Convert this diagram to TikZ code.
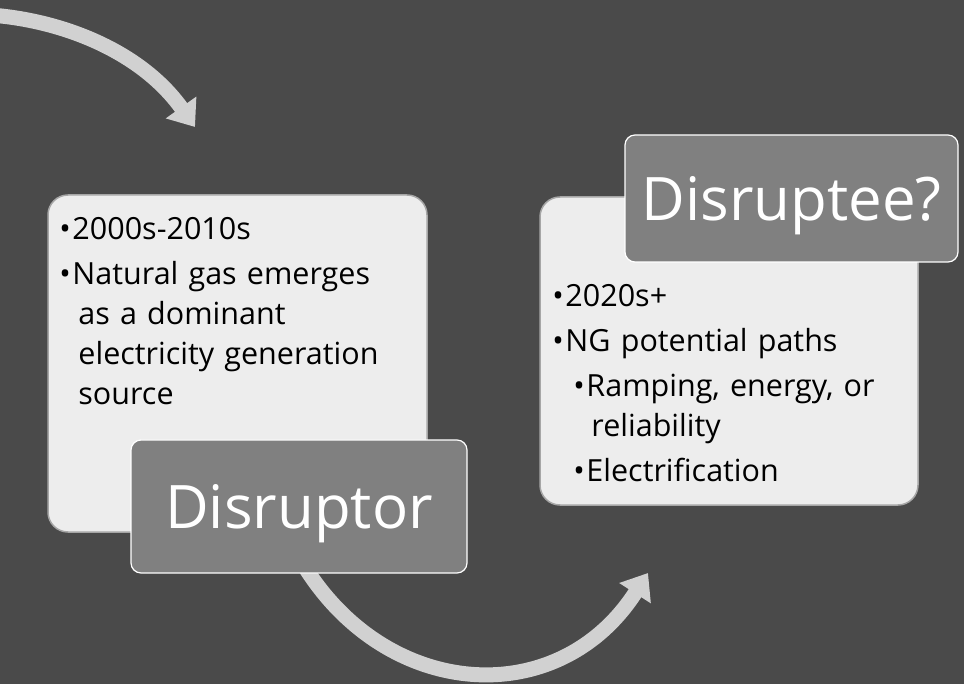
\documentclass[tikz,border=0pt]{standalone}
\usepackage{fontspec}
\setmainfont{Open Sans}
\usetikzlibrary{arrows.meta,positioning}

\definecolor{slate}{gray}{0.29}
\definecolor{paper}{gray}{0.93}
\definecolor{tagfill}{gray}{0.50}
\definecolor{swoosh}{gray}{0.82}

% bullet lines with hanging indent
\newcommand{\bitem}[1]{\par\leftskip=0pt\hangindent=19pt\hangafter=1\noindent\makebox[13pt][l]{\textbullet}#1}
\newcommand{\sbitem}[1]{\par\leftskip=21pt\hangindent=18pt\hangafter=1\noindent\makebox[13pt][l]{\textbullet}#1}

\begin{document}
\begin{tikzpicture}[
  x=1pt, y=-1pt,
  card/.style={draw=black!35, line width=1.5pt, fill=paper, rounded corners=20pt, inner sep=0pt},
  tag/.style={draw=white, line width=1.2pt, fill=tagfill, rounded corners=10pt, inner sep=0pt,
              text=white, text depth=0pt, font=\fontsize{60}{60}\selectfont},
  notes/.style={anchor=north west, inner sep=0pt, text width=360pt,
                font=\fontsize{30.5}{40}\selectfont},
  flow/.style={draw=swoosh, line width=15pt, -{Triangle[width=36pt,length=24pt]}}
]
\fill[slate] (0,0) rectangle (964,684);
\useasboundingbox (0,0) rectangle (964,684);

% swooshes
\coordinate (topstart) at (-10,15);
\coordinate (toptip) at (195,127);
\coordinate (lowstart) at (295,550);
\coordinate (lowtip) at (648,573);
\draw[flow] (topstart) .. controls (60,20) and (140,50) .. (toptip);
\draw[flow] (lowstart) .. controls (375,700) and (556,716) .. (lowtip);

% left: the past
\node[card, minimum width=379pt, minimum height=337pt] (past) at (237.5,363.5) {};
\node[notes] (pastnotes) at ([shift={(12,0)}]past.north west)
  {\setlength{\parskip}{5pt}%
   \bitem{2000s-2010s}
   \bitem{Natural gas emerges\newline as a dominant\newline electricity generation\newline source}\par};
\node[tag, minimum width=336pt, minimum height=133pt] (disruptor) at (299,506.5) {Disruptor};

% right: the future
\node[card, minimum width=378pt, minimum height=308pt] (future) at (729,351) {};
\node[notes] (futurenotes) at ([shift={(13,65)}]future.north west)
  {\setlength{\parskip}{5pt}%
   \bitem{2020s+}
   \bitem{NG potential paths}
   \sbitem{Ramping, energy, or\newline reliability}
   \sbitem{Electrification}\par};
\node[tag, minimum width=333pt, minimum height=127pt] (disruptee) at (791.5,198.5) {Disruptee?};
\end{tikzpicture}
\end{document}
